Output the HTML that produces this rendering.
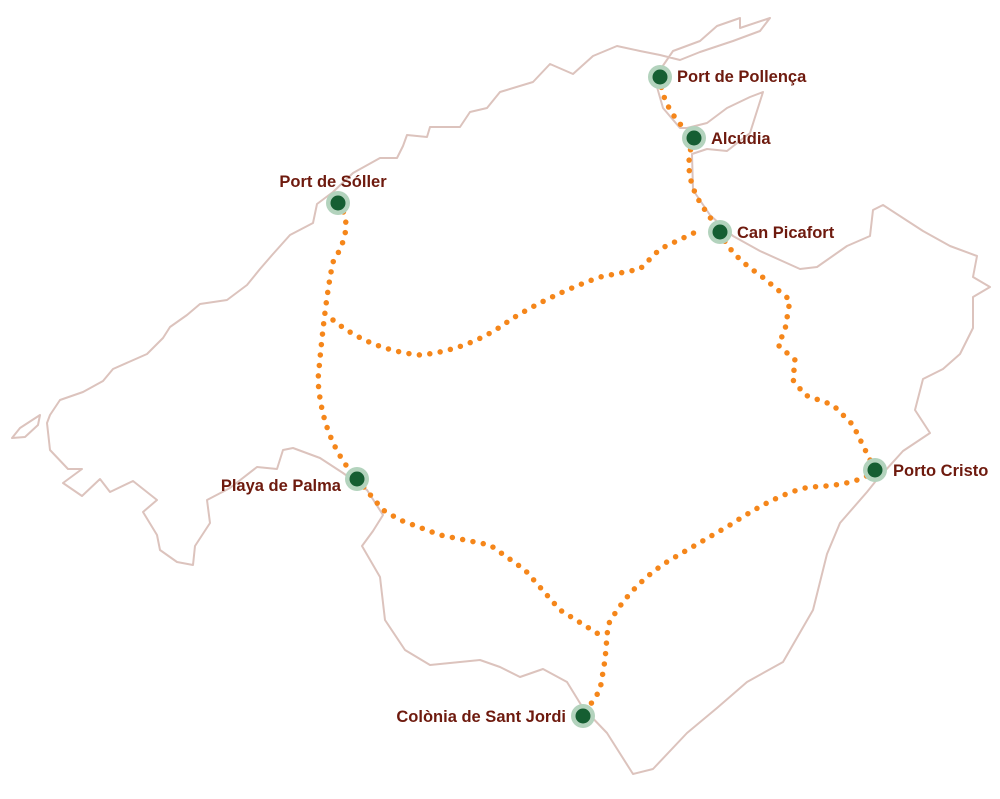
<!DOCTYPE html>
<html><head><meta charset="utf-8"><style>
html,body{margin:0;padding:0;background:#fff}
svg{display:block}
text{font-family:"Liberation Sans",sans-serif;font-weight:bold;font-size:16.5px;fill:#6e1a0e}
</style></head><body>
<svg width="1000" height="799" viewBox="0 0 1000 799" xmlns="http://www.w3.org/2000/svg">
<g fill="none" stroke="#dcc3bd" stroke-width="2" stroke-linejoin="round">
<path d="M12,438 L20,428 L40,415 L38,425 L25,437 Z"/>
<path d="M47,423 L50,450 L68,469 L82,469 L63,483 L82,496 L100,479 L110,492 L133,481 L157,500 L143,512 L157,535 L160,550 L177,562 L193,565 L195,546 L210,523 L207,500 L230,488 L257,467 L277,469 L283,450 L293,448 L320,458 L343,473 L367,490 L383,515 L373,531 L362,546 L380,577 L385,620 L405,650 L430,665 L480,660 L500,667 L520,677 L543,669 L567,682 L583,708 L607,733 L633,774 L653,769 L687,733 L717,708 L747,682 L783,662 L813,610 L827,554 L840,523 L867,492 L875,482 L903,451 L930,433 L915,410 L923,379 L943,369 L960,354 L973,328 L973,297 L990,287 L973,277 L977,256 L950,246 L923,231 L883,205 L873,210 L870,236 L847,246 L817,267 L800,269 L760,251 L733,236 L710,215 L693,190 L692,154 L707,149 L727,151 L750,133 L763,92 L750,97 L727,108 L707,123 L687,128 L680,128 L663,108 L657,87 L660,70 L673,51 L700,41 L717,26 L740,18 L740,28 L770,18 L760,31 L733,41 L700,52 L680,60 L660,55 L640,51 L617,46 L593,56 L573,74 L550,64 L533,82 L500,92 L487,108 L470,112 L460,127 L430,127 L427,137 L407,135 L403,146 L397,158 L380,158 L353,173 L333,192 L317,204 L313,223 L290,235 L273,254 L260,269 L247,285 L227,300 L200,304 L187,315 L170,327 L163,338 L147,354 L113,369 L103,381 L83,392 L60,400 L50,415 Z"/>
</g>
<g fill="none" stroke="#f5861a" stroke-width="5.5" stroke-linecap="round" stroke-dasharray="0 10.5">
<path d="M660,77 Q662,110 694,138 Q680,175 705,210 L720,232"/>
<path d="M720,232 Q730,255 760,275 L790,300 L785,330 L778,345 L795,360 L793,380 L805,395 L833,405 L853,425 L875,470"/>
<path d="M875,470 Q860,485 810,487 Q780,492 730,525 L670,560 Q630,585 608,625 L605,660 L600,690 L583,716"/>
<path d="M357,479 L383,510 L400,520 L440,535 L490,545 L525,570 L560,610 L600,635"/>
<path d="M338,203 Q356,225 333,262 Q325,300 318,380 Q322,440 357,479"/>
<path d="M333,320 Q370,350 420,355 Q470,350 510,320 Q550,295 600,277 L640,269 L660,249 L700,230"/>
</g>
<g>
<circle cx="660" cy="77" r="12" fill="#b3d3bd"/><circle cx="660" cy="77" r="7.5" fill="#155e32"/>
<circle cx="694" cy="138" r="12" fill="#b3d3bd"/><circle cx="694" cy="138" r="7.5" fill="#155e32"/>
<circle cx="720" cy="232" r="12" fill="#b3d3bd"/><circle cx="720" cy="232" r="7.5" fill="#155e32"/>
<circle cx="338" cy="203" r="12" fill="#b3d3bd"/><circle cx="338" cy="203" r="7.5" fill="#155e32"/>
<circle cx="357" cy="479" r="12" fill="#b3d3bd"/><circle cx="357" cy="479" r="7.5" fill="#155e32"/>
<circle cx="875" cy="470" r="12" fill="#b3d3bd"/><circle cx="875" cy="470" r="7.5" fill="#155e32"/>
<circle cx="583" cy="716" r="12" fill="#b3d3bd"/><circle cx="583" cy="716" r="7.5" fill="#155e32"/>
</g>
<text x="677" y="82">Port de Pollença</text>
<text x="711" y="144">Alcúdia</text>
<text x="737" y="238">Can Picafort</text>
<text x="333" y="187" text-anchor="middle">Port de Sóller</text>
<text x="341" y="491" text-anchor="end">Playa de Palma</text>
<text x="893" y="476">Porto Cristo</text>
<text x="566" y="722" text-anchor="end">Colònia de Sant Jordi</text>
</svg>
</body></html>
